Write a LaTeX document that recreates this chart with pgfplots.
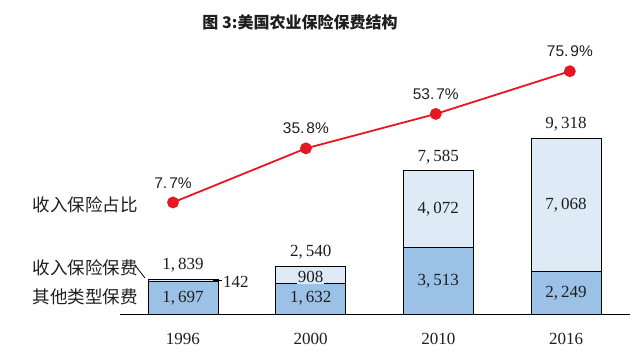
\documentclass[border=0pt]{standalone}
\usepackage{pgfplots}
\pgfplotsset{compat=1.18}
\usepackage{fontspec}
\setmainfont{Liberation Serif}
\newfontfamily\cjk{Noto Sans CJK SC}
\newfontfamily\lsans{Liberation Sans}
\definecolor{barlo}{RGB}{155,194,230}
\definecolor{barhi}{RGB}{222,235,247}
\definecolor{linered}{RGB}{232,22,32}
\definecolor{txt}{RGB}{30,30,30}
\newcommand{\nf}{\fontsize{17}{19}\selectfont}
\pgfplotsset{base/.style={at={(120pt,49pt)}, anchor=south west, scale only axis,
  width=510pt, height=274pt, xmin=-0.493, xmax=3.501, clip=false}}
\begin{document}
\begin{tikzpicture}[x=1pt,y=1pt]
\path[use as bounding box] (0,0) rectangle (640,363);
\node[font=\cjk\bfseries\fontsize{16}{18}\selectfont, text=txt] at (300,341) {图 3:美国农业保险保费结构};
% bars
\begin{axis}[base, ymin=0, ymax=14505,
  axis x line=bottom, axis y line=none,
  axis line style={-, black, line width=0.8pt},
  xtick={0,1,2,3}, xticklabels={1996,2000,2010,2016},
  major tick length=0pt,
  xticklabel style={font=\nf, text=txt, yshift=-16pt},
  ytick=\empty, ybar stacked, bar width=70pt]
\addplot[fill=barlo, draw=black, line width=0.9pt] coordinates {(0,1697) (1,1632) (2,3513) (3,2249)};
\addplot[fill=barhi, draw=black, line width=0.9pt] coordinates {(0,142) (1,908) (2,4072) (3,7068)};
\end{axis}
% labels over the bars
\begin{axis}[base, ymin=0, ymax=14505, hide axis]
\addplot[draw=none] coordinates {(0,0) (3,0)};
\node[font=\nf, text=txt] at (axis cs:0,848) {1,\kern3pt697};
\node[font=\nf, text=txt] at (axis cs:1,816) {1,\kern3pt632};
\node[font=\nf, text=txt] at (axis cs:2,1756) {3,\kern3pt513};
\node[font=\nf, text=txt] at (axis cs:3,1124) {2,\kern3pt249};
\node[font=\nf, text=txt, fill=barhi, inner sep=1pt] at (axis cs:1,1950) {908};
\node[font=\nf, text=txt] at (axis cs:2,5549) {4,\kern3pt072};
\node[font=\nf, text=txt] at (axis cs:3,5783) {7,\kern3pt068};
\node[font=\nf, text=txt] at (axis cs:0,2594) {1,\kern3pt839};
\node[font=\nf, text=txt] at (axis cs:1,3280) {2,\kern3pt540};
\node[font=\nf, text=txt] at (axis cs:2,8310) {7,\kern3pt585};
\node[font=\nf, text=txt] at (axis cs:3,10050) {9,\kern3pt318};
\node[font=\nf, text=txt] at (axis cs:0.415,1694) {142};
\draw[black, line width=0.8pt] (axis cs:0.235,1800) -- (axis cs:0.305,1800);
\draw[black, line width=0.8pt] (axis cs:-0.376,2594) -- (axis cs:-0.298,1906);
\end{axis}
% line
\begin{axis}[base, ymin=-50.28, ymax=92.13, hide axis]
\addplot[linered, line width=1.8pt, mark=*, mark size=5pt,
  mark options={fill=linered, draw=linered},
  nodes near coords, point meta=explicit symbolic,
  every node near coord/.style={font=\lsans\fontsize{15.5}{17}\selectfont, text=txt, anchor=south, yshift=10pt}]
  coordinates {(-0.078,7.7)[7.\kern2pt7\%] (0.963,35.8)[35.\kern2pt8\%] (1.98,53.7)[53.\kern2pt7\%] (3.03,75.9)[75.\kern2pt9\%]};
\end{axis}
\node[font=\cjk\fontsize{17.5}{20}\selectfont, text=txt] at (85,158) {收入保险占比};
\node[font=\cjk\fontsize{17.5}{20}\selectfont, text=txt] at (85,95) {收入保险保费};
\node[font=\cjk\fontsize{17.5}{20}\selectfont, text=txt] at (85,66) {其他类型保费};
\end{tikzpicture}
\end{document}
